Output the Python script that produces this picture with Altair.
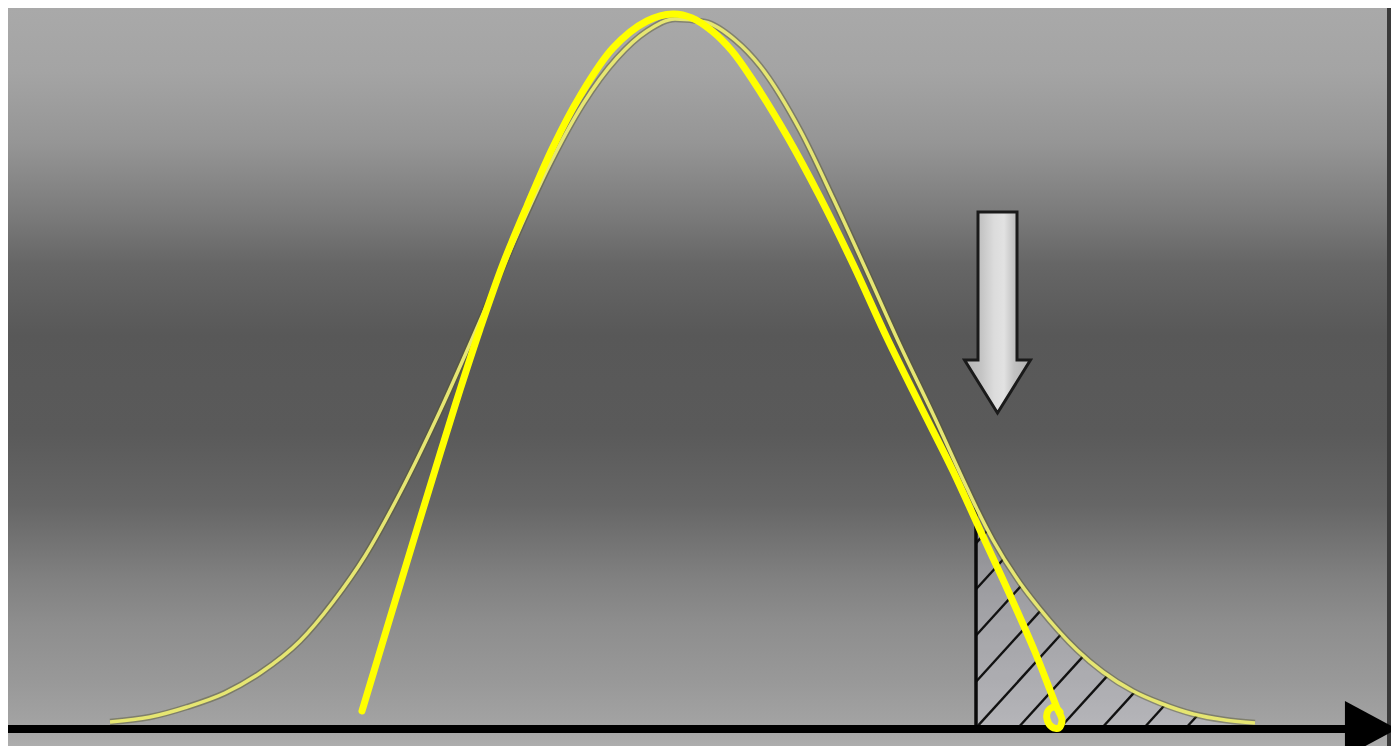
import altair as alt
import pandas as pd

# ---------------- data ----------------
# faint (reference) normal curve: x position, height above the baseline
faint_x = [110, 150, 187, 225, 260, 300, 333, 365, 400, 440, 483, 517, 547, 583,
           617, 647, 675, 705, 735, 760, 800, 833, 867, 900, 933, 967, 976, 993,
           1020, 1040, 1077, 1103, 1133, 1160, 1193, 1225, 1255]
faint_h = [7, 12, 22, 36, 56, 88, 127, 173, 236, 318, 415, 494, 559, 625,
           671, 698, 710, 707, 689, 663, 599, 531, 457, 384, 315, 241, 222, 189,
           146, 120, 79, 57, 38, 26, 15, 9, 6]

# bright hand-drawn curve (ends with a small loop)
bright_x = [362, 390, 417, 440, 460, 480, 503, 527, 553, 580, 613, 647, 673, 692,
            712, 732, 752, 787, 820, 853, 887, 920, 953, 980, 1010, 1035, 1050,
            1057, 1062, 1059, 1052, 1047, 1048, 1054, 1060]
bright_h = [18, 111, 200, 275, 339, 400, 465, 523, 582, 633, 681, 708, 715, 711,
            698, 678, 650, 593, 532, 465, 391, 324, 258, 199, 134, 77, 39,
            21, 9, 1, 2, 10, 18, 22, 17]

threshold_x = 976          # critical value (start of the hatched tail)
threshold_h = 222          # curve height there
hatch_base = [807, 849, 891, 933, 975, 1017, 1059, 1101, 1143, 1185]
hatch_slope = 1.1

arrow_x, arrow_h = 997.5, 416.5     # "look here" arrow above the tail
axis_x0, axis_x1 = 8, 1352          # horizontal axis line
axis_head_x = 1371
border_x0, border_x1 = 1387, 1391

X_DOMAIN = [8, 1391]
Y_DOMAIN = [-17, 721]

# ---------------- tables ----------------
faint = pd.DataFrame({"x": faint_x, "y": faint_h})
bright = pd.DataFrame({"x": bright_x, "y": bright_h, "i": range(len(bright_x))})
tail = faint[faint["x"] >= threshold_x]


def curve_at(x):
    for a in range(len(faint_x) - 1):
        if faint_x[a] <= x <= faint_x[a + 1]:
            t = (x - faint_x[a]) / (faint_x[a + 1] - faint_x[a])
            return faint_h[a] + t * (faint_h[a + 1] - faint_h[a])
    return 0.0


hatch_rows = []
for xb in hatch_base:
    x0 = max(xb, threshold_x)
    h0 = hatch_slope * (x0 - xb)
    if h0 >= curve_at(x0):
        continue
    x = x0
    while hatch_slope * (x - xb) < curve_at(x) and x < faint_x[-1]:
        x += 0.25
    hatch_rows.append({"x": x0, "y": h0, "x2": x, "y2": hatch_slope * (x - xb)})
hatch = pd.DataFrame(hatch_rows)

bg = pd.DataFrame({"x": [X_DOMAIN[0]], "x2": [border_x0],
                   "y": [Y_DOMAIN[0]], "y2": [Y_DOMAIN[1]]})
border = pd.DataFrame({"x": [border_x0], "x2": [border_x1],
                       "y": [Y_DOMAIN[0]], "y2": [Y_DOMAIN[1]]})
thr = pd.DataFrame({"x": [threshold_x], "y": [0], "y2": [threshold_h]})
axis_df = pd.DataFrame({"x": [axis_x0], "x2": [axis_x1], "y": [0]})
axis_head = pd.DataFrame({"x": [axis_head_x], "y": [0]})
arrow = pd.DataFrame({"x": [arrow_x], "y": [arrow_h]})

xs = alt.Scale(domain=X_DOMAIN, nice=False, zero=False)
ys = alt.Scale(domain=Y_DOMAIN, nice=False, zero=False)


def X(f="x"):
    return alt.X(f"{f}:Q", scale=xs, axis=None)


def Y(f="y"):
    return alt.Y(f"{f}:Q", scale=ys, axis=None)


bg_grad = {
    "gradient": "linear", "x1": 0, "x2": 0, "y1": 0, "y2": 1,
    "stops": [
        {"offset": 0.0, "color": "#a9a9a9"},
        {"offset": 0.087, "color": "#a4a4a4"},
        {"offset": 0.184, "color": "#959595"},
        {"offset": 0.282, "color": "#7a7a7a"},
        {"offset": 0.347, "color": "#666666"},
        {"offset": 0.444, "color": "#585858"},
        {"offset": 0.576, "color": "#5a5a5a"},
        {"offset": 0.673, "color": "#666666"},
        {"offset": 0.771, "color": "#808080"},
        {"offset": 0.836, "color": "#8e8e8e"},
        {"offset": 0.915, "color": "#999999"},
        {"offset": 0.965, "color": "#a2a2a2"},
        {"offset": 1.0, "color": "#adadad"},
    ],
}

arrow_grad = {
    "gradient": "linear", "x1": 0, "x2": 1, "y1": 0, "y2": 0,
    "stops": [
        {"offset": 0.0, "color": "#b4b4b4"},
        {"offset": 0.25, "color": "#c4c4c4"},
        {"offset": 0.45, "color": "#dcdcdc"},
        {"offset": 0.6, "color": "#e2e2e2"},
        {"offset": 0.75, "color": "#c2c2c2"},
        {"offset": 1.0, "color": "#b0b0b0"},
    ],
}

background = alt.Chart(bg).mark_rect(fill=bg_grad, stroke=None).encode(
    x=X(), x2="x2", y=Y(), y2="y2")

right_border = alt.Chart(border).mark_rect(fill="#3a3a3a").encode(
    x=X(), x2="x2", y=Y(), y2="y2")

tail_fill = alt.Chart(tail).mark_area(
    interpolate="monotone", fill="#eeeeff", opacity=0.24).encode(
    x=X(), y=Y(), y2=alt.datum(0))

hatch_lines = alt.Chart(hatch).mark_rule(color="#111111", strokeWidth=2.4).encode(
    x=X(), y=Y(), x2="x2", y2="y2")

threshold = alt.Chart(thr).mark_rule(color="#0a0a0a", strokeWidth=3.5).encode(
    x=X(), y=Y(), y2="y2")

faint_halo = alt.Chart(faint).mark_line(
    interpolate="monotone", color="#55552a", strokeWidth=6.5, opacity=0.45).encode(
    x=X(), y=Y())

faint_line = alt.Chart(faint).mark_line(
    interpolate="monotone", color="#e6e672", strokeWidth=3.5).encode(
    x=X(), y=Y())

axis_line = alt.Chart(axis_df).mark_rule(color="#000000", strokeWidth=8).encode(
    x=X(), x2="x2", y=Y())

axis_arrow = alt.Chart(axis_head).mark_point(
    shape="M -0.93 -1 L 0.93 0 L -0.93 1 Z", size=3136, filled=True,
    fill="#000000", stroke=None, opacity=1, clip=True).encode(x=X(), y=Y())

bright_line = alt.Chart(bright).mark_line(
    interpolate="catmull-rom", color="#ffff00", strokeWidth=7,
    strokeCap="round", strokeJoin="round").encode(
    x=X(), y=Y(), order="i:Q")

down_arrow = alt.Chart(arrow).mark_point(
    shape="M -0.194 -1 L 0.194 -1 L 0.194 0.473 L 0.328 0.473 L 0 1 "
          "L -0.328 0.473 L -0.194 0.473 Z",
    size=40401, filled=True, fill=arrow_grad, stroke="#1a1a1a",
    strokeWidth=3, opacity=1).encode(x=X(), y=Y())

chart = alt.layer(
    background, tail_fill, hatch_lines, threshold, faint_halo, faint_line,
    down_arrow, axis_line, right_border, axis_arrow, bright_line,
).properties(
    width=1383, height=738, padding=0,
    autosize=alt.AutoSizeParams(type="none"),
    background="white",
).configure_view(stroke=None)

chart.save("out.html", embed_options={"renderer": "svg", "actions": False})
